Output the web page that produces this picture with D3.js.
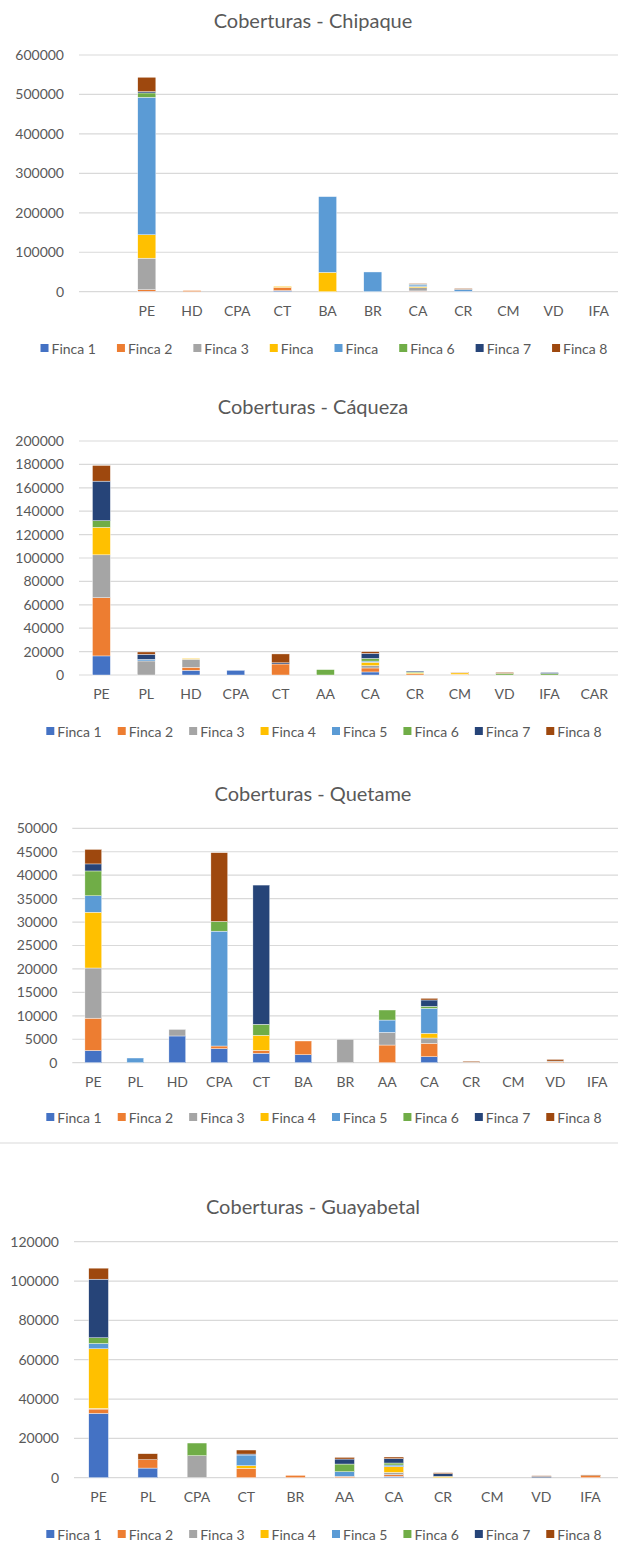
<!DOCTYPE html>
<html>
<head>
<meta charset="utf-8">
<script src="https://d3js.org/d3.v7.min.js"></script>
<style>
  body { margin: 0; background: #fff; }
  svg { display: block; font-family: Lato, "Open Sans", sans-serif; }
</style>
</head>
<body>
<svg id="chart" width="618" height="1554"></svg>
<script>
// ---- data ----
var fincaColors = ["#4472C4", "#ED7D31", "#A5A5A5", "#FFC000", "#5B9BD5", "#70AD47", "#264478", "#9E480E"];
var fincaNames = ["Finca 1", "Finca 2", "Finca 3", "Finca 4", "Finca 5", "Finca 6", "Finca 7", "Finca 8"];
var chipaqueNames = ["Finca 1", "Finca 2", "Finca 3", "Finca", "Finca", "Finca 6", "Finca 7", "Finca 8"];

var chipaqueCats = ["PE", "HD", "CPA", "CT", "BA", "BR", "CA", "CR", "CM", "VD", "IFA"];
var chipaqueVals = [
  [1000, 0, 0, 3000, 0, 0, 1000, 1000, 0, 0, 0],
  [4000, 3000, 0, 8000, 0, 0, 1000, 0, 0, 0, 0],
  [80000, 0, 0, 0, 0, 0, 8000, 0, 0, 0, 0],
  [59300, 0, 0, 2500, 49000, 0, 3000, 0, 0, 0, 0],
  [348500, 0, 0, 0, 192000, 50000, 4000, 5000, 0, 0, 0],
  [11000, 0, 0, 0, 0, 0, 1500, 0, 0, 0, 0],
  [3400, 0, 0, 0, 0, 0, 1000, 0, 0, 0, 0],
  [36400, 0, 0, 0, 0, 0, 1500, 2000, 0, 0, 0]
];
var chipaqueTicks = [0, 100000, 200000, 300000, 400000, 500000, 600000];

var caquezaCats = ["PE", "PL", "HD", "CPA", "CT", "AA", "CA", "CR", "CM", "VD", "IFA", "CAR"];
var caquezaVals = [
  [16300, 0, 4000, 4000, 0, 0, 2600, 0, 0, 0, 0, 0],
  [49800, 0, 2600, 0, 9400, 0, 3400, 1000, 600, 0, 0, 0],
  [36600, 12000, 6900, 0, 0, 0, 2000, 0, 0, 0, 0, 0],
  [23500, 0, 600, 0, 0, 0, 2900, 800, 1200, 0, 0, 0],
  [0, 1400, 0, 0, 0, 0, 1000, 0, 0, 0, 0, 0],
  [5700, 0, 0, 0, 0, 4600, 2300, 800, 0, 1400, 1200, 0],
  [33800, 4300, 0, 0, 1000, 0, 4300, 800, 0, 0, 900, 0],
  [13400, 2000, 0, 0, 7600, 0, 1400, 0, 500, 800, 0, 0]
];
var caquezaTicks = [0, 20000, 40000, 60000, 80000, 100000, 120000, 140000, 160000, 180000, 200000];

var quetameCats = ["PE", "PL", "HD", "CPA", "CT", "BA", "BR", "AA", "CA", "CR", "CM", "VD", "IFA"];
var quetameVals = [
  [2600, 0, 5700, 3000, 2000, 1700, 0, 0, 1280, 0, 0, 0, 0],
  [6900, 0, 0, 560, 640, 2930, 0, 3770, 2845, 0, 0, 150, 0],
  [10700, 0, 1400, 0, 0, 0, 5000, 2700, 1140, 100, 0, 200, 0],
  [11900, 0, 0, 0, 3200, 0, 0, 0, 1000, 0, 0, 0, 0],
  [3500, 1000, 0, 24500, 0, 0, 0, 2630, 5330, 0, 0, 0, 0],
  [5300, 0, 0, 2070, 2350, 0, 0, 2140, 430, 0, 0, 0, 0],
  [1500, 0, 0, 0, 29700, 0, 0, 0, 1350, 0, 0, 0, 0],
  [3100, 0, 0, 14670, 0, 0, 0, 0, 360, 200, 0, 350, 0]
];
var quetameTicks = [0, 5000, 10000, 15000, 20000, 25000, 30000, 35000, 40000, 45000, 50000];

var guayabetalCats = ["PE", "PL", "CPA", "CT", "BR", "AA", "CA", "CR", "CM", "VD", "IFA"];
var guayabetalVals = [
  [32700, 4900, 0, 0, 0, 0, 680, 0, 0, 0, 0],
  [2200, 4250, 0, 4750, 1200, 700, 850, 0, 0, 0, 1000],
  [300, 0, 11200, 0, 0, 0, 1190, 0, 0, 0, 0],
  [30350, 0, 0, 1350, 0, 0, 2880, 680, 0, 0, 0],
  [2700, 0, 0, 5425, 0, 2350, 850, 0, 0, 0, 0],
  [2900, 0, 6430, 0, 0, 3900, 1020, 0, 0, 0, 0],
  [29800, 0, 0, 500, 0, 2540, 2200, 1360, 0, 700, 0],
  [5600, 3050, 0, 2050, 0, 850, 850, 510, 0, 300, 400]
];
var guayabetalTicks = [0, 20000, 40000, 60000, 80000, 100000, 120000];

var svg = d3.select("#chart");
var textColor = "#595959", gridColor = "#D9D9D9";

function drawChart(opt) {
  var g = svg.append("g");
  var domain = (opt.blankFirst ? [""] : []).concat(opt.cats);

  var x = d3.scaleBand()
    .domain(domain)
    .range([opt.x0, opt.x0 + domain.length * opt.step])
    .paddingInner(0.6)
    .paddingOuter(0.3);

  var ymax = opt.ticks[opt.ticks.length - 1];
  var y = d3.scaleLinear().domain([0, ymax]).range([opt.zero, opt.top]);

  // title
  g.append("text")
    .attr("x", 313).attr("y", opt.titleY)
    .attr("text-anchor", "middle")
    .attr("dominant-baseline", "central")
    .attr("fill", textColor)
    .style("font-size", "20px")
    .text(opt.title);

  // gridlines + y labels
  var yAxis = d3.axisLeft(y).tickValues(opt.ticks).tickSize(0).tickPadding(15)
    .tickFormat(function(d) { return String(d); });
  var ya = g.append("g").attr("transform", "translate(" + opt.x0 + ",0)").call(yAxis);
  ya.select(".domain").remove();
  ya.selectAll("text").attr("fill", textColor).style("font-size", "14px").style("font-family", "Lato, sans-serif");

  g.append("g").selectAll("line")
    .data(opt.ticks)
    .enter().append("line")
    .attr("x1", opt.x0).attr("x2", 618)
    .attr("y1", function(d) { return y(d); })
    .attr("y2", function(d) { return y(d); })
    .attr("stroke", gridColor).attr("stroke-width", 1.2);

  // stacked bars
  var rows = opt.cats.map(function(c, i) {
    var r = { cat: c };
    opt.vals.forEach(function(s, k) { r["s" + k] = s[i]; });
    return r;
  });
  var keys = opt.vals.map(function(s, k) { return "s" + k; });
  var series = d3.stack().keys(keys)(rows);

  g.append("g").selectAll("g")
    .data(series)
    .enter().append("g")
    .attr("fill", function(d, k) { return fincaColors[k]; })
    .selectAll("rect")
    .data(function(d) { return d.filter(function(p) { return p[1] - p[0] > 0; }); })
    .enter().append("rect")
    .attr("x", function(d) { return x(d.data.cat); })
    .attr("width", x.bandwidth())
    .attr("y", function(d) { return y(d[1]); })
    .attr("height", function(d) { return y(d[0]) - y(d[1]); })
    .attr("stroke", "#fff").attr("stroke-width", 0.4);

  // x labels
  var xAxis = d3.axisBottom(x).tickSize(0).tickPadding(14);
  var xa = g.append("g").attr("transform", "translate(0," + opt.zero + ")").call(xAxis);
  xa.select(".domain").remove();
  xa.selectAll("text").attr("fill", textColor).style("font-size", "14px").style("font-family", "Lato, sans-serif");

  // legend
  var lg = g.append("g");
  var cx = 0;
  opt.names.forEach(function(n, k) {
    var it = lg.append("g").attr("transform", "translate(" + cx + ",0)");
    it.append("rect").attr("x", 0).attr("y", -4).attr("width", 8).attr("height", 8).attr("fill", fincaColors[k]);
    var t = it.append("text").attr("x", 11).attr("y", 0)
      .attr("dominant-baseline", "central")
      .attr("fill", textColor).style("font-size", "14px").text(n);
    cx += 11 + t.node().getComputedTextLength() + opt.legendGap;
  });
  var lw = cx - opt.legendGap;
  lg.attr("transform", "translate(" + (324 - lw / 2) + "," + opt.legendY + ")");
}

drawChart({ title: "Coberturas - Chipaque", cats: chipaqueCats, vals: chipaqueVals, ticks: chipaqueTicks,
  names: chipaqueNames, blankFirst: true, x0: 79, step: 45.2, top: 55, zero: 291.7, titleY: 20, legendY: 348, legendGap: 21 });
drawChart({ title: "Coberturas - Cáqueza", cats: caquezaCats, vals: caquezaVals, ticks: caquezaTicks,
  names: fincaNames, x0: 79, step: 44.8, top: 441, zero: 675, titleY: 406, legendY: 731, legendGap: 16 });
drawChart({ title: "Coberturas - Quetame", cats: quetameCats, vals: quetameVals, ticks: quetameTicks,
  names: fincaNames, x0: 72.3, step: 42.0, top: 828.3, zero: 1062.7, titleY: 793, legendY: 1117, legendGap: 16 });
drawChart({ title: "Coberturas - Guayabetal", cats: guayabetalCats, vals: guayabetalVals, ticks: guayabetalTicks,
  names: fincaNames, x0: 74, step: 49.2, top: 1241.7, zero: 1477.7, titleY: 1206, legendY: 1534, legendGap: 16 });

// separator between Quetame and Guayabetal
svg.append("line").attr("x1", 0).attr("x2", 618).attr("y1", 1143).attr("y2", 1143)
  .attr("stroke", gridColor).attr("stroke-width", 1);
</script>
</body>
</html>
